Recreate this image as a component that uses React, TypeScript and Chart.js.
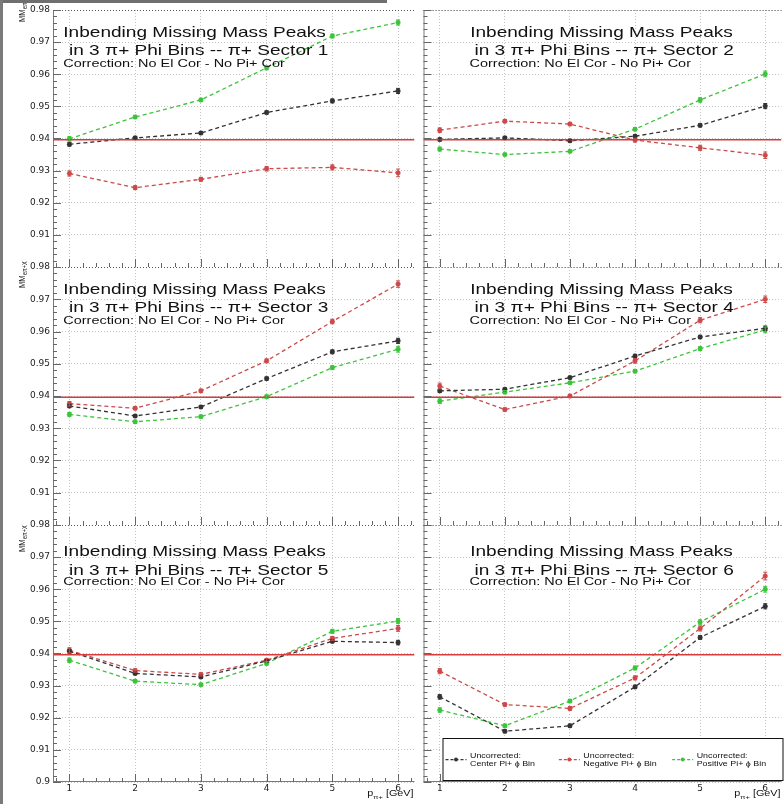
import React, { useEffect, useRef } from "react";
import { Chart, registerables } from "chart.js";
Chart.register(...registerables);

// ---------- data ----------
const P_BINS = [1, 2, 3, 4, 5, 6];
const X_TICKS = [1, 2, 3, 4, 5, 6];
const Y_TICKS = [0.9, 0.91, 0.92, 0.93, 0.94, 0.95, 0.96, 0.97, 0.98];
const X_RANGE = [0.75, 6.25];
const Y_RANGE = [0.9, 0.98];
const X_MINOR_STEP = 0.2;
const Y_MINOR_STEP = 0.002;
const NEUTRON_MASS = 0.9396;

const SECTORS = [1, 2, 3, 4, 5, 6];
const LEGEND_PREFIX = "Uncorrected:";
const SERIES_LABELS = ["Center Pi+ ϕ Bin", "Negative Pi+ ϕ Bin", "Positive Pi+ ϕ Bin"];
const TITLE_LINE1 = "Inbending Missing Mass Peaks";
const TITLE_LINE2_PREFIX = "in 3 π+ Phi Bins -- π+ Sector ";
const TITLE_LINE3 = "Correction: No El Cor - No Pi+ Cor";
const X_TITLE_MAIN = "p";
const X_TITLE_SUB = "π+";
const X_TITLE_UNIT = " [GeV]";
const Y_TITLE_MAIN = "MM";
const Y_TITLE_SUB = "eπ+X";

// Sector 1
const S1_CENTER = [0.9382, 0.9402, 0.9417, 0.9481, 0.9517, 0.9548];
const S1_CENTER_ERR = [0.0006, 0.0004, 0.0004, 0.0005, 0.0006, 0.0008];
const S1_NEG = [0.9291, 0.9247, 0.9273, 0.9306, 0.931, 0.9293];
const S1_NEG_ERR = [0.0008, 0.0006, 0.0006, 0.0007, 0.0008, 0.0012];
const S1_POS = [0.9399, 0.9467, 0.952, 0.962, 0.9719, 0.9761];
const S1_POS_ERR = [0.0007, 0.0005, 0.0005, 0.0006, 0.0006, 0.0008];
// Sector 2
const S2_CENTER = [0.9397, 0.9402, 0.9393, 0.9407, 0.9441, 0.9501];
const S2_CENTER_ERR = [0.0005, 0.0004, 0.0004, 0.0005, 0.0005, 0.0008];
const S2_NEG = [0.9426, 0.9454, 0.9445, 0.9395, 0.9371, 0.9348];
const S2_NEG_ERR = [0.0007, 0.0005, 0.0005, 0.0006, 0.0008, 0.001];
const S2_POS = [0.9367, 0.935, 0.936, 0.9429, 0.952, 0.9601];
const S2_POS_ERR = [0.0006, 0.0004, 0.0004, 0.0005, 0.0007, 0.0009];
// Sector 3
const S3_CENTER = [0.9369, 0.9338, 0.9366, 0.9454, 0.9537, 0.9571];
const S3_CENTER_ERR = [0.0005, 0.0004, 0.0004, 0.0005, 0.0006, 0.0008];
const S3_NEG = [0.9376, 0.9362, 0.9416, 0.9509, 0.9631, 0.9747];
const S3_NEG_ERR = [0.0007, 0.0005, 0.0005, 0.0006, 0.0007, 0.001];
const S3_POS = [0.9343, 0.932, 0.9336, 0.9398, 0.9488, 0.9545];
const S3_POS_ERR = [0.0006, 0.0005, 0.0004, 0.0005, 0.0006, 0.0009];
// Sector 4
const S4_CENTER = [0.9416, 0.9421, 0.9457, 0.9524, 0.9583, 0.961];
const S4_CENTER_ERR = [0.0005, 0.0004, 0.0004, 0.0005, 0.0005, 0.0007];
const S4_NEG = [0.9431, 0.9358, 0.94, 0.9509, 0.9635, 0.97];
const S4_NEG_ERR = [0.0009, 0.0005, 0.0005, 0.0007, 0.0008, 0.001];
const S4_POS = [0.9384, 0.9412, 0.9441, 0.9477, 0.9547, 0.9605];
const S4_POS_ERR = [0.0007, 0.0005, 0.0004, 0.0005, 0.0006, 0.0009];
// Sector 5
const S5_CENTER = [0.9407, 0.9338, 0.9327, 0.9377, 0.9438, 0.9434];
const S5_CENTER_ERR = [0.0006, 0.0004, 0.0004, 0.0004, 0.0005, 0.0007];
const S5_NEG = [0.941, 0.9347, 0.9335, 0.9379, 0.9447, 0.9478];
const S5_NEG_ERR = [0.0008, 0.0005, 0.0005, 0.0005, 0.0006, 0.0009];
const S5_POS = [0.9379, 0.9314, 0.9303, 0.9369, 0.9469, 0.9501];
const S5_POS_ERR = [0.0007, 0.0005, 0.0004, 0.0005, 0.0006, 0.0008];
// Sector 6
const S6_CENTER = [0.9265, 0.9158, 0.9175, 0.9296, 0.945, 0.9547];
const S6_CENTER_ERR = [0.0007, 0.0005, 0.0005, 0.0005, 0.0006, 0.0008];
const S6_NEG = [0.9345, 0.9241, 0.9229, 0.9324, 0.9478, 0.9641];
const S6_NEG_ERR = [0.0008, 0.0005, 0.0006, 0.0006, 0.0008, 0.0012];
const S6_POS = [0.9224, 0.9175, 0.9252, 0.9355, 0.9498, 0.96];
const S6_POS_ERR = [0.0007, 0.0005, 0.0005, 0.0006, 0.0007, 0.0009];

const PANEL_SERIES = [
  [[S1_CENTER, S1_CENTER_ERR], [S1_NEG, S1_NEG_ERR], [S1_POS, S1_POS_ERR]],
  [[S2_CENTER, S2_CENTER_ERR], [S2_NEG, S2_NEG_ERR], [S2_POS, S2_POS_ERR]],
  [[S3_CENTER, S3_CENTER_ERR], [S3_NEG, S3_NEG_ERR], [S3_POS, S3_POS_ERR]],
  [[S4_CENTER, S4_CENTER_ERR], [S4_NEG, S4_NEG_ERR], [S4_POS, S4_POS_ERR]],
  [[S5_CENTER, S5_CENTER_ERR], [S5_NEG, S5_NEG_ERR], [S5_POS, S5_POS_ERR]],
  [[S6_CENTER, S6_CENTER_ERR], [S6_NEG, S6_NEG_ERR], [S6_POS, S6_POS_ERR]],
];

// ---------- style / layout ----------
const SERIES_COLORS = ["#333333", "#cc4a4a", "#3cc43c"];
const REF_COLOR = "#d63c3c";
const SX = 1.27; // horizontal stretch of the original rendering
const FONT = '"Liberation Sans", Arial, Helvetica, sans-serif';

const COL_LEFT = [0, 419];
const COL_WIDTH = [419, 367];
const Y_AXIS_WIDTH = [53, 0];
const ROW_TOP = [0, 257, 515];
const ROW_HEIGHT = [279, 280, 289];
const X_AXIS_HEIGHT = [12, 12, 22];
const PAD_TOP = 10;
const TITLE_X = [[10.3, 16, 10.3], [46.7, 51, 46]];
const TITLE_Y = [[27.3, 45, 56.7], [27.3, 45, 56.7], [31, 50, 60]];
const Y_TITLE_START = [12, 21, 27];

function stretchText(ctx: CanvasRenderingContext2D, text: string, x: number, y: number, size: number, align = "left", color = "#111") {
  ctx.save();
  ctx.font = `${size}px ${FONT}`;
  ctx.fillStyle = color;
  ctx.textBaseline = "alphabetic";
  ctx.textAlign = "left";
  const w = ctx.measureText(text).width * SX;
  const x0 = align === "right" ? x - w : align === "center" ? x - w / 2 : x;
  ctx.translate(x0, y);
  ctx.scale(SX, 1);
  ctx.fillText(text, 0, 0);
  ctx.restore();
  return w;
}

function textWidth(ctx: CanvasRenderingContext2D, text: string, size: number) {
  ctx.save();
  ctx.font = `${size}px ${FONT}`;
  const w = ctx.measureText(text).width * SX;
  ctx.restore();
  return w;
}

function fmtY(v: number) {
  return String(parseFloat(v.toFixed(3)));
}

function makePlugin(index: number) {
  const col = index % 2;
  const row = Math.floor(index / 2);
  return {
    id: "panelDecor",
    afterDatasetsDraw(chart: any) {
      const ctx: CanvasRenderingContext2D = chart.ctx;
      const ys = chart.scales.y;
      const ca = chart.chartArea;
      ctx.save();
      ctx.beginPath();
      ctx.rect(ca.left, ca.top, ca.right - ca.left, ca.bottom - ca.top);
      ctx.clip();
      chart.data.datasets.forEach((ds: any, i: number) => {
        if (!ds.errors) return;
        const meta = chart.getDatasetMeta(i);
        ctx.strokeStyle = ds.borderColor;
        ctx.lineWidth = 1;
        meta.data.forEach((pt: any, j: number) => {
          const v = ds.data[j].y;
          const e = ds.errors[j];
          const y1 = ys.getPixelForValue(v - e);
          const y2 = ys.getPixelForValue(v + e);
          ctx.beginPath();
          ctx.moveTo(pt.x, y1);
          ctx.lineTo(pt.x, y2);
          ctx.moveTo(pt.x - 2, y1);
          ctx.lineTo(pt.x + 2, y1);
          ctx.moveTo(pt.x - 2, y2);
          ctx.lineTo(pt.x + 2, y2);
          ctx.stroke();
        });
      });
      ctx.restore();
    },
    afterDraw(chart: any) {
      const ctx: CanvasRenderingContext2D = chart.ctx;
      const xs = chart.scales.x;
      const ys = chart.scales.y;
      const { left, right, top, bottom } = chart.chartArea;
      ctx.save();
      // frame
      ctx.lineWidth = 1;
      ctx.strokeStyle = "#555";
      ctx.setLineDash([1, 2]);
      ctx.beginPath();
      ctx.moveTo(left, top + 0.5);
      ctx.lineTo(right, top + 0.5);
      ctx.stroke();
      ctx.setLineDash([]);
      ctx.strokeStyle = "#7a7a7a";
      ctx.beginPath();
      ctx.moveTo(left + 0.5, top);
      ctx.lineTo(left + 0.5, bottom);
      if (row === 2) {
        ctx.moveTo(left, bottom - 0.5);
        ctx.lineTo(right, bottom - 0.5);
      }
      ctx.stroke();
      // inward ticks
      ctx.strokeStyle = "#666";
      ctx.beginPath();
      const nY = Math.round((Y_RANGE[1] - Y_RANGE[0]) / Y_MINOR_STEP);
      for (let k = 0; k <= nY; k++) {
        const v = Y_RANGE[0] + k * Y_MINOR_STEP;
        const major = k % 5 === 0;
        const y = Math.round(ys.getPixelForValue(v)) + 0.5;
        ctx.moveTo(left, y);
        ctx.lineTo(left + (major ? 8 : 4), y);
      }
      const x0 = Math.ceil(X_RANGE[0] / X_MINOR_STEP - 1e-9);
      const x1 = Math.floor(X_RANGE[1] / X_MINOR_STEP + 1e-9);
      for (let k = x0; k <= x1; k++) {
        const v = k * X_MINOR_STEP;
        const major = k % 5 === 0;
        const x = Math.round(xs.getPixelForValue(v)) + 0.5;
        ctx.moveTo(x, bottom);
        ctx.lineTo(x, bottom - (major ? 8 : 4));
      }
      ctx.stroke();
      ctx.restore();

      // titles
      const tx = TITLE_X[col];
      const ty = TITLE_Y[row];
      stretchText(ctx, TITLE_LINE1, left + tx[0], top + ty[0], 15);
      stretchText(ctx, TITLE_LINE2_PREFIX + SECTORS[index], left + tx[1], top + ty[1], 15);
      stretchText(ctx, TITLE_LINE3, left + tx[2], top + ty[2], 11.4);

      // x axis title
      if (row === 2) {
        const wMain = textWidth(ctx, X_TITLE_MAIN, 8.5);
        const wSub = textWidth(ctx, X_TITLE_SUB, 6);
        const wUnit = textWidth(ctx, X_TITLE_UNIT, 8.5);
        let x = right - 1 - (wMain + wSub + wUnit);
        const yb = bottom + 14;
        stretchText(ctx, X_TITLE_MAIN, x, yb, 8.5);
        x += wMain;
        stretchText(ctx, X_TITLE_SUB, x, yb + 2.5, 6);
        x += wSub;
        stretchText(ctx, X_TITLE_UNIT, x, yb, 8.5);
      }

      // y axis title (rotated)
      if (col === 0) {
        ctx.save();
        ctx.translate(24.5, top + Y_TITLE_START[row]);
        ctx.scale(SX, 1);
        ctx.rotate(-Math.PI / 2);
        ctx.fillStyle = "#111";
        ctx.textBaseline = "alphabetic";
        ctx.font = `7.5px ${FONT}`;
        ctx.fillText(Y_TITLE_MAIN, 0, 0);
        const w = ctx.measureText(Y_TITLE_MAIN).width;
        ctx.font = `5.5px ${FONT}`;
        ctx.fillText(Y_TITLE_SUB, w + 0.5, 2);
        ctx.restore();
      }

      // legend (last panel)
      if (index === SECTORS.length - 1) {
        const bx = left + 19;
        const bw = 340;
        const bh = 42;
        const by = bottom - 2 - bh;
        ctx.save();
        ctx.fillStyle = "#fff";
        ctx.fillRect(bx, by, bw, bh);
        ctx.strokeStyle = "#111";
        ctx.lineWidth = 1;
        ctx.strokeRect(bx + 0.5, by + 0.5, bw, bh);
        SERIES_LABELS.forEach((lab, i) => {
          const ex = bx + (i * bw) / 3;
          const ly = by + 21.6;
          ctx.strokeStyle = SERIES_COLORS[i];
          ctx.lineWidth = 1.3;
          ctx.setLineDash([3, 2]);
          ctx.beginPath();
          ctx.moveTo(ex + 3, ly);
          ctx.lineTo(ex + 24, ly);
          ctx.stroke();
          ctx.setLineDash([]);
          ctx.fillStyle = SERIES_COLORS[i];
          ctx.beginPath();
          ctx.arc(ex + 13.5, ly, 2, 0, Math.PI * 2);
          ctx.fill();
          stretchText(ctx, LEGEND_PREFIX, ex + 27.5, by + 19.6, 7);
          stretchText(ctx, lab, ex + 27.5, by + 28, 7);
        });
        ctx.restore();
      }
    },
  };
}

function makeConfig(index: number): any {
  const col = index % 2;
  const row = Math.floor(index / 2);
  const series = PANEL_SERIES[index];
  const tickFont = { family: '"DejaVu Sans", sans-serif', size: 9 };
  const datasets: any[] = series.map(([vals, errs], i) => ({
    label: SERIES_LABELS[i],
    data: P_BINS.map((p, j) => ({ x: p, y: vals[j] })),
    errors: errs,
    borderColor: SERIES_COLORS[i],
    backgroundColor: SERIES_COLORS[i],
    pointBackgroundColor: SERIES_COLORS[i],
    pointBorderColor: SERIES_COLORS[i],
    pointBorderWidth: 0.5,
    pointRadius: 2.3,
    borderWidth: 1.3,
    borderDash: [4, 3],
    tension: 0,
    fill: false,
    order: 1,
  }));
  datasets.push({
    label: "ref",
    data: [
      { x: X_RANGE[0], y: NEUTRON_MASS },
      { x: X_RANGE[1], y: NEUTRON_MASS },
    ],
    borderColor: REF_COLOR,
    borderWidth: 1.4,
    pointRadius: 0,
    fill: false,
    order: 0,
  });
  return {
    type: "line",
    data: { datasets },
    options: {
      responsive: false,
      animation: false,
      devicePixelRatio: 1,
      events: [],
      layout: { padding: { top: PAD_TOP, left: 0, right: 0, bottom: 0 } },
      plugins: { legend: { display: false }, tooltip: { enabled: false }, title: { display: false } },
      scales: {
        x: {
          type: "linear",
          min: X_RANGE[0],
          max: X_RANGE[1],
          afterBuildTicks: (s: any) => {
            s.ticks = X_TICKS.map((v) => ({ value: v }));
          },
          afterFit: (s: any) => {
            s.height = X_AXIS_HEIGHT[row];
          },
          ticks: {
            display: row === 2,
            autoSkip: false,
            maxRotation: 0,
            padding: 1,
            color: "#222",
            font: tickFont,
            callback: (v: any) => String(v),
          },
          grid: { color: "#c4c4c4", lineWidth: 1, drawTicks: false },
          border: { display: false, dash: [1, 2] },
        },
        y: {
          type: "linear",
          min: Y_RANGE[0],
          max: Y_RANGE[1],
          afterBuildTicks: (s: any) => {
            s.ticks = Y_TICKS.map((v) => ({ value: v }));
          },
          afterFit: (s: any) => {
            s.width = Y_AXIS_WIDTH[col];
          },
          ticks: {
            display: col === 0,
            autoSkip: false,
            padding: 3,
            color: "#222",
            font: tickFont,
            callback: (v: any) => (row < 2 && Math.abs(v - Y_RANGE[0]) < 1e-9 ? "" : fmtY(v)),
          },
          grid: { color: "#c4c4c4", lineWidth: 1, drawTicks: false },
          border: { display: false, dash: [1, 2] },
        },
      },
    },
    plugins: [makePlugin(index)],
  };
}

function Panel({ index }: { index: number }) {
  const ref = useRef<HTMLCanvasElement>(null);
  const col = index % 2;
  const row = Math.floor(index / 2);
  const w = COL_WIDTH[col];
  const h = ROW_HEIGHT[row];
  useEffect(() => {
    if (!ref.current) return;
    const chart = new Chart(ref.current, makeConfig(index));
    return () => chart.destroy();
  }, [index]);
  return (
    <canvas
      ref={ref}
      width={w}
      height={h}
      style={{ position: "absolute", left: COL_LEFT[col], top: ROW_TOP[row], width: w, height: h }}
    />
  );
}

export default function App() {
  return (
    <div
      style={{
        position: "fixed",
        left: 0,
        top: 0,
        width: 784,
        height: 804,
        overflow: "hidden",
        background: "#fff",
      }}
    >
      {SECTORS.map((s, i) => (
        <Panel key={s} index={i} />
      ))}
      <div style={{ position: "absolute", left: 0, top: 0, width: 387, height: 3, background: "#6f6f6f" }} />
      <div style={{ position: "absolute", left: 0, top: 0, width: 3, height: 804, background: "#7a7a7a" }} />
    </div>
  );
}
